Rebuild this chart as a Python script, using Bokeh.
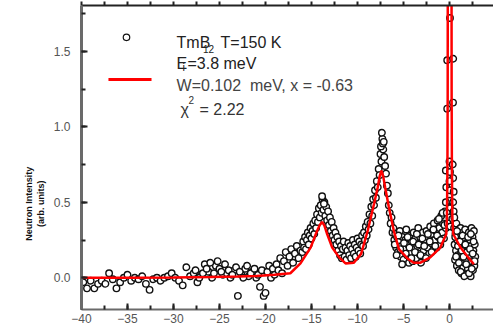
from bokeh.plotting import figure
from bokeh.models import Range1d, LinearAxis, Label, PrintfTickFormatter, SingleIntervalTicker, FixedTicker
from bokeh.embed import file_html
from bokeh.resources import INLINE

# ---------------- data ----------------
e_tail = [-39.8, -39.4, -39.0, -38.6, -38.2, -37.8, -37.4, -37.0, -36.6, -36.2,
          -35.8, -35.4, -35.0, -34.6, -34.2, -33.8, -33.4, -33.0, -32.6, -32.2,
          -31.8, -31.4, -31.0, -30.6, -30.2, -29.8, -29.4, -29.0, -28.6, -28.2,
          -27.8, -27.4, -27.0, -26.6, -26.2, -25.8, -25.4, -25.0, -24.6, -24.2,
          -23.8, -23.4, -23.0, -22.6, -22.2, -21.8, -21.4, -21.0, -20.6, -20.2]
i_tail = [-0.03, -0.07, -0.02, -0.07, -0.04, -0.02, -0.04, 0.03, -0.01, -0.07,
          -0.03, 0.00, 0.02, -0.02, 0.00, -0.01, 0.01, -0.04, -0.08, -0.01,
          0.00, -0.02, 0.00, 0.01, 0.03, 0.00, -0.02, -0.05, 0.07, 0.01,
          0.03, -0.03, 0.02, 0.09, 0.04, 0.00, 0.08, 0.06, 0.02, 0.03,
          0.00, 0.05, -0.12, 0.02, 0.06, 0.01, 0.04, 0.00, -0.06, -0.12]

e_tail2 = [-27.6, -27.2, -26.8, -26.4, -26.0, -25.6, -25.2, -24.8, -24.4, -24.0,
           -23.6, -23.2, -22.8, -22.4, -22.0, -21.6, -21.2, -20.8, -20.4]
i_tail2 = [0.05, 0.00, 0.03, 0.06, 0.10, 0.03, 0.11, 0.04, 0.09, 0.05,
           0.02, 0.07, 0.04, 0.00, 0.08, 0.03, 0.06, 0.02, 0.05]

e_rise = [-20.0, -19.8, -19.6, -19.4, -19.2, -19.0, -18.8, -18.6, -18.4, -18.2,
          -18.0, -17.8, -17.6, -17.4, -17.2, -17.0, -16.8, -16.6, -16.4, -16.2]
i_rise = [-0.10, 0.04, 0.08, 0.00, 0.06, 0.02, 0.09, 0.05, 0.13, 0.03,
          0.11, 0.17, 0.08, 0.14, 0.19, 0.10, 0.16, 0.21, 0.13, 0.18]

e_main = [-16.0, -15.9, -15.8, -15.7, -15.6, -15.5, -15.4, -15.3, -15.2, -15.1,
          -15.0, -14.9, -14.8, -14.7, -14.6, -14.5, -14.4, -14.3, -14.2, -14.1,
          -14.0, -13.9, -13.8, -13.7, -13.6, -13.5, -13.4, -13.3, -13.2, -13.1,
          -13.0, -12.9, -12.8, -12.7, -12.6, -12.5, -12.4, -12.3, -12.2, -12.1,
          -12.0, -11.9, -11.8, -11.7, -11.6, -11.5, -11.4, -11.3, -11.2, -11.1,
          -11.0, -10.9, -10.8, -10.7, -10.6, -10.5, -10.4, -10.3, -10.2, -10.1,
          -10.0, -9.9, -9.8, -9.7, -9.6, -9.5, -9.4, -9.3, -9.2, -9.1,
          -9.0, -8.9, -8.8, -8.7, -8.6, -8.5, -8.4, -8.3, -8.2, -8.1,
          -8.0, -7.9, -7.8, -7.7, -7.6, -7.5, -7.4, -7.3, -7.2, -7.1,
          -7.0, -6.9, -6.8, -6.7, -6.6, -6.5, -6.4, -6.3, -6.2, -6.1,
          -6.0, -5.9, -5.8, -5.7, -5.6, -5.5, -5.4, -5.3, -5.2, -5.1,
          -5.0, -4.9, -4.8, -4.7, -4.6, -4.5, -4.4, -4.3, -4.2, -4.1,
          -4.0, -3.9, -3.8, -3.7, -3.6, -3.5, -3.4, -3.3, -3.2, -3.1,
          -3.0, -2.9, -2.8, -2.7, -2.6, -2.5, -2.4, -2.3, -2.2, -2.1,
          -2.0, -1.9, -1.8, -1.7, -1.6, -1.5, -1.4, -1.3, -1.2, -1.1,
          -1.0, -0.9, -0.8, -0.7, -0.6, -0.5, -0.4]
i_main = [0.17, 0.24, 0.20, 0.27, 0.19, 0.25, 0.30, 0.22, 0.28, 0.33,
          0.26, 0.31, 0.36, 0.29, 0.38, 0.33, 0.42, 0.37, 0.46, 0.40,
          0.48, 0.43, 0.52, 0.45, 0.50, 0.41, 0.47, 0.38, 0.44, 0.35,
          0.40, 0.31, 0.37, 0.28, 0.33, 0.25, 0.30, 0.22, 0.27, 0.18,
          0.24, 0.15, 0.21, 0.13, 0.19, 0.24, 0.14, 0.20, 0.12, 0.18,
          0.23, 0.15, 0.21, 0.13, 0.19, 0.25, 0.16, 0.22, 0.14, 0.20,
          0.26, 0.18, 0.24, 0.16, 0.22, 0.28, 0.21, 0.30, 0.25, 0.34,
          0.28, 0.37, 0.32, 0.42, 0.36, 0.47, 0.41, 0.52, 0.48, 0.58,
          0.53, 0.64, 0.60, 0.72, 0.68, 0.82, 0.77, 0.92, 0.85, 0.80,
          0.74, 0.69, 0.61, 0.56, 0.48, 0.43, 0.36, 0.40, 0.30, 0.33,
          0.25, 0.29, 0.20, 0.27, 0.17, 0.24, 0.31, 0.14, 0.21, 0.27,
          0.12, 0.19, 0.25, 0.32, 0.15, 0.22, 0.10, 0.28, 0.17, 0.24,
          0.11, 0.30, 0.19, 0.26, 0.13, 0.21, 0.33, 0.16, 0.27, 0.10,
          0.23, 0.30, 0.18, 0.25, 0.14, 0.31, 0.20, 0.27, 0.16, 0.34,
          0.23, 0.29, 0.18, 0.36, 0.25, 0.31, 0.20, 0.38, 0.27, 0.33,
          0.22, 0.41, 0.30, 0.36, 0.26, 0.44, 0.33]

e_extra = [-13.85, -13.65, -7.45, -7.35, -7.25, -7.15,
           -5.95, -5.75, -5.55, -5.35, -5.15, -4.95, -4.75, -4.55, -4.35, -4.15,
           -3.95, -3.75, -3.55, -3.35, -3.15, -2.95, -2.75, -2.55, -2.35, -2.15,
           -1.95, -1.75, -1.55, -1.35, -1.15, -0.95, -0.75, -0.55]
i_extra = [0.54, 0.49, 0.87, 0.96, 0.89, 0.90,
           0.22, 0.15, 0.28, 0.19, 0.09, 0.23, 0.16, 0.27, 0.20, 0.13,
           0.24, 0.17, 0.29, 0.22, 0.15, 0.26, 0.21, 0.13, 0.29, 0.24,
           0.17, 0.32, 0.21, 0.28, 0.39, 0.25, 0.43, 0.35]

e_elastic = [0.05, -0.25, 0.40, -0.25, 0.38,
             0.00, 0.35, -0.40, 0.05, 0.40, 0.00, -0.35, 0.05, 0.45, 0.00,
             -0.40, 0.40, 0.05, -0.30, 0.45, 0.00, 0.30, -0.20, 0.10]
i_elastic = [1.72, 1.44, 1.45, 1.12, 1.16,
             0.77, 0.75, 0.71, 0.70, 0.66, 0.64, 0.60, 0.58, 0.57, 0.51,
             0.50, 0.50, 0.46, 0.43, 0.44, 0.40, 0.39, 0.36, 0.34]

e_gain = [0.50, 0.55, 0.60, 0.65, 0.70, 0.75, 0.80, 0.85, 0.90, 0.95,
          1.00, 1.05, 1.10, 1.15, 1.20, 1.25, 1.30, 1.35, 1.40, 1.45,
          1.50, 1.55, 1.60, 1.65, 1.70, 1.75, 1.80, 1.85, 1.90, 1.95,
          2.00, 2.05, 2.10, 2.15, 2.20, 2.25, 2.30, 2.35, 2.40, 2.45,
          2.50, 2.55, 2.60, 2.65, 2.70, 2.75, 2.80]
i_gain = [0.33, 0.22, 0.12, 0.29, 0.18, 0.36, 0.08, 0.25, 0.15, 0.31,
          0.05, 0.21, 0.27, 0.11, 0.33, 0.17, 0.03, 0.24, 0.13, 0.30,
          0.07, 0.20, 0.26, 0.10, 0.32, 0.16, 0.02, 0.23, 0.12, 0.28,
          0.06, 0.19, 0.30, 0.09, 0.25, 0.14, 0.01, 0.21, 0.33, 0.11,
          0.27, 0.05, 0.18, 0.31, 0.08, 0.22, 0.14]

e_gain2 = [0.52, 0.62, 0.72, 0.82, 0.92, 1.02, 1.12, 1.22, 1.32, 1.42,
           1.52, 1.62, 1.72, 1.82, 1.92, 2.02, 2.12, 2.22, 2.32, 2.42,
           2.52, 2.62, 2.72]
i_gain2 = [0.40, 0.27, 0.14, 0.31, 0.21, 0.10, 0.24, 0.04, 0.18, 0.28,
           0.14, 0.01, 0.22, 0.09, 0.17, 0.27, 0.03, 0.19, 0.29, 0.06,
           0.16, 0.24, 0.11]

# fit curve
fit_e = [-40.0, -35.0, -30.0, -26.0, -23.0, -21.0, -19.0, -17.3, -16.2, -15.1,
         -14.4, -14.1, -13.85, -13.6, -13.3, -12.75, -12.0, -11.3, -10.4, -9.6,
         -8.9, -8.2, -7.8, -7.6, -7.4, -7.2, -7.0, -6.6, -6.05, -5.5,
         -4.6, -3.9, -3.15, -2.1, -1.0, -0.35, -0.28, -0.23, -0.20, -0.19,
         0.02, 0.22, 0.23, 0.26, 0.31, 0.40, 1.2, 2.1, 2.65]
fit_i = [0.0, 0.0, 0.002, 0.005, 0.008, 0.012, 0.02, 0.03, 0.095, 0.20,
         0.31, 0.35, 0.37, 0.345, 0.29, 0.20, 0.135, 0.095, 0.10, 0.16,
         0.31, 0.49, 0.60, 0.67, 0.71, 0.67, 0.60, 0.47, 0.31, 0.19,
         0.13, 0.10, 0.10, 0.135, 0.20, 0.29, 0.40, 0.70, 1.20, 1.90,
         6.0, 1.90, 1.20, 0.70, 0.40, 0.29, 0.20, 0.13, 0.09]

top_ticks = [-40, -37.5, -35, -32.5, -30, -27.5, -25, -22.5, -20, -17.5, -15, -12.5,
             -10, -7.5, -5, -2.5, 0, 2.5]

y_title_lines = ["Neutron Intensity", "(arb. units)"]

# ---------------- figure ----------------
p = figure(width=493, height=328, x_range=Range1d(-40, 4.78), y_range=Range1d(-0.21, 1.803),
           output_backend="svg", toolbar_location=None,
           min_border_left=81, min_border_right=0, min_border_top=5, min_border_bottom=19)
p.outline_line_color = None
p.grid.visible = False
p.background_fill_color = "white"

xa = p.xaxis[0]
xa.ticker = SingleIntervalTicker(interval=5, num_minor_ticks=2)
ya = p.yaxis[0]
ya.ticker = SingleIntervalTicker(interval=0.5, num_minor_ticks=2)
ya.formatter = PrintfTickFormatter(format="%.1f")
for ax in (xa, ya):
    ax.axis_line_color = "#6a6a6a"
    ax.major_tick_in = 6
    ax.major_tick_out = 0
    ax.minor_tick_in = 4
    ax.minor_tick_out = 0
    ax.major_tick_line_color = "#222222"
    ax.minor_tick_line_color = "#222222"
    ax.major_tick_line_width = 2
    ax.minor_tick_line_width = 2
    ax.major_label_text_font = "Liberation Sans"
    ax.major_label_text_font_size = "12px"
    ax.major_label_text_color = "#555555"
ya.axis_line_width = 3
xa.axis_line_width = 2
ya.major_label_standoff = 11
xa.major_label_standoff = 4

# rotated y title, padded with no-break spaces so its visible part sits lower on the axis
pad = "\u00a0" * 37
ya.axis_label = "\n".join(t + pad for t in y_title_lines)
ya.axis_label_text_font = "Liberation Sans"
ya.axis_label_text_font_size = "9px"
ya.axis_label_text_font_style = "bold"
ya.axis_label_text_color = "#111111"
ya.axis_label_standoff = 5

top = LinearAxis(ticker=FixedTicker(ticks=[], minor_ticks=top_ticks),
                 axis_line_color="#222222", axis_line_width=2,
                 major_tick_in=0, major_tick_out=0, minor_tick_in=0, minor_tick_out=4,
                 minor_tick_line_color="#222222", minor_tick_line_width=2,
                 major_label_standoff=0)
p.add_layout(top, "above")

# data points
allx = e_tail + e_tail2 + e_rise + e_main + e_extra + e_elastic + e_gain + e_gain2
ally = i_tail + i_tail2 + i_rise + i_main + i_extra + i_elastic + i_gain + i_gain2
p.scatter(allx, ally, marker="circle", size=6.5, line_color="#111111", line_width=1.4, fill_color="white")

# fit
p.line(fit_e, fit_i, line_color="#ff0000", line_width=2.5)

# legend block
p.scatter([-35.11], [1.592], marker="circle", size=6.5, line_color="#111111", line_width=1.2, fill_color="white")
p.line([-37.07, -32.39], [1.313, 1.313], line_color="#ff0000", line_width=3)

def lab(x, y, t, size="16px", color="#222222"):
    p.add_layout(Label(x=x, y=y, text=t, text_font="Liberation Sans", text_font_size=size,
                       text_color=color, text_baseline="alphabetic", text_align="left"))

lab(-29.67, 1.558, "TmB")
lab(-26.80, 1.515, "12", size="10px")
lab(-24.89, 1.558, "T=150 K")
lab(-29.67, 1.419, "E")
lab(-29.02, 1.393, "i", size="11px")
lab(-28.48, 1.419, "=3.8 meV")
lab(-29.67, 1.273, "W=0.102\u00a0 meV, x = -0.63", color="#444444")
lab(-29.24, 1.114, "\u03c7", color="#333333")
lab(-28.37, 1.174, "2", size="10px", color="#333333")
lab(-27.17, 1.114, "= 2.22", color="#333333")

open("out.html", "w").write(file_html(p, INLINE))
